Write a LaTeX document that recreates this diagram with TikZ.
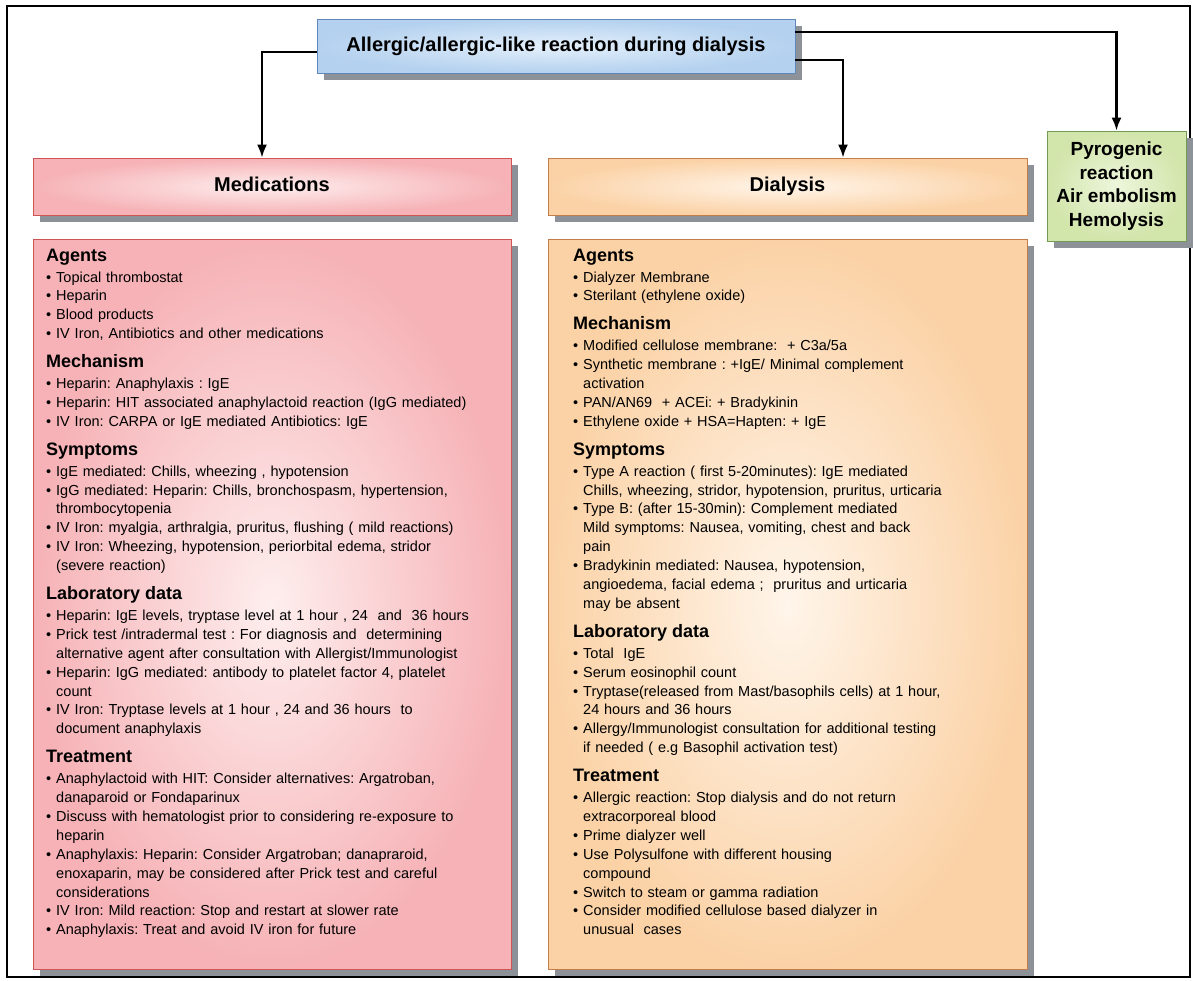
\documentclass[tikz,border=0pt]{standalone}
\usepackage{fontspec}
\setmainfont{Liberation Sans}
\usepackage{tikz}
\usetikzlibrary{arrows.meta,positioning,shadows}

\definecolor{medrim}{RGB}{246,178,182}
\definecolor{medcore}{RGB}{254,238,238}
\definecolor{medline}{RGB}{205,85,85}
\definecolor{dialrim}{RGB}{251,210,166}
\definecolor{dialcore}{RGB}{255,245,234}
\definecolor{dialline}{RGB}{195,125,75}
\definecolor{toprim}{RGB}{180,209,239}
\definecolor{topcore}{RGB}{228,240,251}
\definecolor{topline}{RGB}{95,135,185}
\definecolor{pyrorim}{RGB}{210,229,170}
\definecolor{pyrocore}{RGB}{237,246,220}
\definecolor{pyroline}{RGB}{115,155,85}
\definecolor{shadowgray}{RGB}{140,146,152}

\newcommand{\headfont}{\fontsize{18}{22}\selectfont\bfseries}
\newcommand{\sect}[2][10pt]{\par\vspace{#1}{\headfont #2}\par\vspace{2pt}}
\newcommand{\br}{\hfil\break}
\newcommand{\itm}[1]{\par\hangindent=10pt\hangafter=1\noindent\makebox[10pt][l]{\textbullet}#1\par}

\tikzset{panel/.style={draw=#1line, line width=0.8pt, shade, inner color=#1core, outer color=#1rim,
  general shadow={fill=shadowgray, shadow xshift=7pt, shadow yshift=-7pt}},
%headers and title share one bold face
bigbold/.style={font=\fontsize{20}{24}\selectfont\bfseries, text height=14.5pt, text depth=4pt},
bodytext/.style={inner sep=0pt, text width=462pt, align=left, font=\fontsize{14.5}{18.9}\selectfont\frenchspacing},
link/.style={line width=2.2pt, -{Latex[length=13pt,width=10pt]}}}

\begin{document}
\begin{tikzpicture}[x=1pt, y=-1pt]
\useasboundingbox (0,0) rectangle (1193,980);
\draw[line width=2pt] (7,6) rectangle (1190,977);

\node[panel=top, bigbold, minimum width=478, minimum height=54] (title) at (556,46) {Allergic/allergic-like reaction during dialysis};
\node[panel=med, bigbold, minimum width=478, minimum height=57] (medhead) at (272,186.5) {Medications};
\node[panel=dial, bigbold, minimum width=479, minimum height=57] (dialhead) at (787.5,186.5) {Dialysis};
\node[panel=pyro, align=center, font=\fontsize{19}{23.5}\selectfont\bfseries, minimum width=139, minimum height=110] (pyro) at (1116.5,186) {Pyrogenic\\reaction\\Air embolism\\Hemolysis};

\node[panel=med, minimum width=478, minimum height=730] (medbody) at (272,604) {};
\node[panel=dial, minimum width=479, minimum height=730] (dialbody) at (787.5,604) {};

\draw[link] ([yshift=-6pt]title.west) -| ([xshift=-10pt]medhead.north);
\draw[link] ([yshift=-14pt]title.east) -| ([xshift=55.5pt]dialhead.north);
\draw[link] ([yshift=14pt]title.east) -| (pyro.north);

\node[bodytext, anchor=north west] (medtext) at (46,242) {%
\sect[0pt]{Agents}
\itm{Topical thrombostat}
\itm{Heparin}
\itm{Blood products}
\itm{IV Iron, Antibiotics and other medications}
\sect{Mechanism}
\itm{Heparin: Anaphylaxis : IgE}
\itm{Heparin: HIT associated anaphylactoid reaction (IgG mediated)}
\itm{IV Iron: CARPA or IgE mediated Antibiotics: IgE}
\sect{Symptoms}
\itm{IgE mediated: Chills, wheezing , hypotension}
\itm{IgG mediated: Heparin: Chills, bronchospasm, hypertension,\br thrombocytopenia}
\itm{IV Iron: myalgia, arthralgia, pruritus, flushing ( mild reactions)}
\itm{IV Iron: Wheezing, hypotension, periorbital edema, stridor\br (severe reaction)}
\sect{Laboratory data}
\itm{Heparin: IgE levels, tryptase level at 1 hour , 24 \ and \ 36 hours}
\itm{Prick test /intradermal test : For diagnosis and \ determining\br alternative agent after consultation with Allergist/Immunologist}
\itm{Heparin: IgG mediated: antibody to platelet factor 4, platelet\br count}
\itm{IV Iron: Tryptase levels at 1 hour , 24 and 36 hours \ to\br document anaphylaxis}
\sect{Treatment}
\itm{Anaphylactoid with HIT: Consider alternatives: Argatroban,\br danaparoid or Fondaparinux}
\itm{Discuss with hematologist prior to considering re-exposure to\br heparin}
\itm{Anaphylaxis: Heparin: Consider Argatroban; danapraroid,\br enoxaparin, may be considered after Prick test and careful\br considerations}
\itm{IV Iron: Mild reaction: Stop and restart at slower rate}
\itm{Anaphylaxis: Treat and avoid IV iron for future}};

\node[bodytext, anchor=north west] (dialtext) at (573,242) {%
\sect[0pt]{Agents}
\itm{Dialyzer Membrane}
\itm{Sterilant (ethylene oxide)}
\sect{Mechanism}
\itm{Modified cellulose membrane: \ + C3a/5a}
\itm{Synthetic membrane : +IgE/ Minimal complement\br activation}
\itm{PAN/AN69 \ + ACEi: + Bradykinin}
\itm{Ethylene oxide + HSA=Hapten: + IgE}
\sect{Symptoms}
\itm{Type A reaction ( first 5-20minutes): IgE mediated\br Chills, wheezing, stridor, hypotension, pruritus, urticaria}
\itm{Type B: (after 15-30min): Complement mediated\br Mild symptoms: Nausea, vomiting, chest and back\br pain}
\itm{Bradykinin mediated: Nausea, hypotension,\br angioedema, facial edema ; \ pruritus and urticaria\br may be absent}
\sect{Laboratory data}
\itm{Total \ IgE}
\itm{Serum eosinophil count}
\itm{Tryptase(released from Mast/basophils cells) at 1 hour,\br 24 hours and 36 hours}
\itm{Allergy/Immunologist consultation for additional testing\br if needed ( e.g Basophil activation test)}
\sect{Treatment}
\itm{Allergic reaction: Stop dialysis and do not return\br extracorporeal blood}
\itm{Prime dialyzer well}
\itm{Use Polysulfone with different housing\br compound}
\itm{Switch to steam or gamma radiation}
\itm{Consider modified cellulose based dialyzer in\br unusual \ cases}};

\end{tikzpicture}
\end{document}
